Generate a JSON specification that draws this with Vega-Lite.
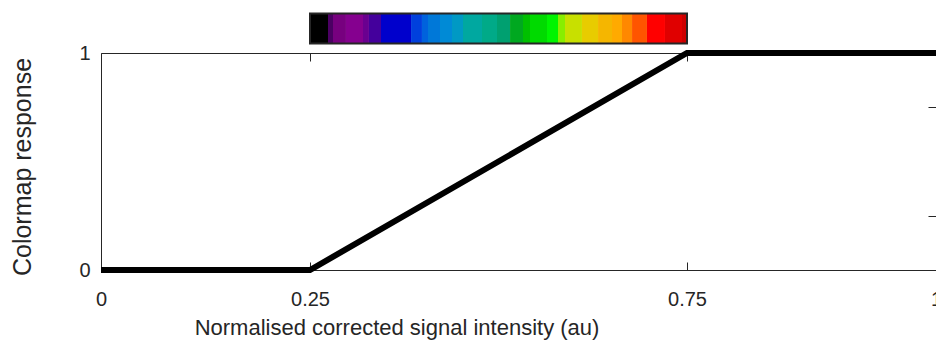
{
  "$schema": "https://vega.github.io/schema/vega-lite/v6.json",
  "width": 835,
  "height": 217,
  "autosize": {"type": "none"},
  "padding": {"left": 101, "top": 53, "right": 0, "bottom": 75},
  "background": "white",
  "config": {
    "view": {"stroke": null},
    "font": "Liberation Sans",
    "axis": {
      "domainColor": "#262626", "tickColor": "#262626", "labelColor": "#262626", "titleColor": "#262626",
      "labelFont": "Liberation Sans", "titleFont": "Liberation Sans",
      "labelFontSize": 20, "titleFontSize": 22, "titleFontWeight": "normal",
      "grid": false, "domainWidth": 1, "tickWidth": 1, "tickSize": -8
    }
  },
  "datasets": {
    "curve": [
      {"s": 0, "r": 0}, {"s": 0.25, "r": 0}, {"s": 0.75, "r": 1}, {"s": 1, "r": 1}
    ],
    "frame": [
      {"a": 0.25, "b": 0.75}
    ],
    "cmap": [
      {"x0": 0.25, "x1": 0.2739, "k": 1},
      {"x0": 0.2739, "x1": 0.2805, "k": 2},
      {"x0": 0.2805, "x1": 0.2977, "k": 3},
      {"x0": 0.2977, "x1": 0.3203, "k": 4},
      {"x0": 0.3203, "x1": 0.3282, "k": 5},
      {"x0": 0.3282, "x1": 0.3442, "k": 6},
      {"x0": 0.3442, "x1": 0.384, "k": 7},
      {"x0": 0.384, "x1": 0.3985, "k": 8},
      {"x0": 0.3985, "x1": 0.4065, "k": 9},
      {"x0": 0.4065, "x1": 0.4224, "k": 10},
      {"x0": 0.4224, "x1": 0.4383, "k": 11},
      {"x0": 0.4383, "x1": 0.4529, "k": 12},
      {"x0": 0.4529, "x1": 0.4781, "k": 13},
      {"x0": 0.4781, "x1": 0.498, "k": 14},
      {"x0": 0.498, "x1": 0.5153, "k": 15},
      {"x0": 0.5153, "x1": 0.5325, "k": 16},
      {"x0": 0.5325, "x1": 0.5418, "k": 17},
      {"x0": 0.5418, "x1": 0.5643, "k": 18},
      {"x0": 0.5643, "x1": 0.5789, "k": 19},
      {"x0": 0.5789, "x1": 0.5882, "k": 20},
      {"x0": 0.5882, "x1": 0.6107, "k": 21},
      {"x0": 0.6107, "x1": 0.632, "k": 22},
      {"x0": 0.632, "x1": 0.6505, "k": 23},
      {"x0": 0.6505, "x1": 0.6638, "k": 24},
      {"x0": 0.6638, "x1": 0.6771, "k": 25},
      {"x0": 0.6771, "x1": 0.6969, "k": 26},
      {"x0": 0.6969, "x1": 0.7208, "k": 27},
      {"x0": 0.7208, "x1": 0.7434, "k": 28},
      {"x0": 0.7434, "x1": 0.75, "k": 29}
    ]
  },
  "resolve": {"axis": {"x": "independent", "y": "independent"}},
  "layer": [
    {
      "data": {"name": "cmap"},
      "mark": {"type": "rect", "strokeWidth": 0},
      "encoding": {
        "x": {
          "field": "x0", "type": "quantitative",
          "scale": {"domain": [0, 0.25, 0.75, 1], "range": [0, 209, 586, 835]},
          "axis": {"orient": "top", "values": [0.25, 0.75], "labels": false, "title": null, "domain": true}
        },
        "x2": {"field": "x1"},
        "y": {
          "datum": 1.0438, "type": "quantitative",
          "scale": {"domain": [0, 1]},
          "axis": {"orient": "right", "values": [0.25, 0.75], "labels": false, "title": null, "domain": false}
        },
        "y2": {"datum": 1.182},
        "color": {
          "field": "k", "type": "ordinal", "legend": null,
          "scale": {"range": ["#000000", "#4b0063", "#77007f", "#85008f", "#6a0090", "#44009c", "#0000cc", "#0040dd", "#0062dd", "#0078d8", "#008ad6", "#0099c4", "#00a8a0", "#00aa88", "#00a070", "#00a820", "#00c000", "#00da00", "#00f400", "#88ee00", "#c8e000", "#e8cc00", "#f5b600", "#ffaa00", "#ff8800", "#ff5500", "#ff0000", "#e00000", "#cc0000"]}
        }
      }
    },
    {
      "data": {"name": "frame"},
      "mark": {"type": "rect", "fill": "transparent", "stroke": "#262626", "strokeWidth": 2},
      "encoding": {
        "x": {"field": "a", "type": "quantitative", "scale": {"domain": [0, 0.25, 0.75, 1], "range": [0, 209, 586, 835]}, "axis": null},
        "x2": {"field": "b"},
        "y": {"datum": 1.0438, "type": "quantitative", "scale": {"domain": [0, 1]}, "axis": null},
        "y2": {"datum": 1.182}
      }
    },
    {
      "data": {"name": "curve"},
      "mark": {"type": "line", "color": "#000000", "strokeWidth": 6},
      "encoding": {
        "x": {
          "field": "s", "type": "quantitative",
          "scale": {"domain": [0, 0.25, 0.75, 1], "range": [0, 209, 586, 835]},
          "axis": {
            "orient": "bottom", "values": [0, 0.25, 0.75, 1], "format": ".2~f",
            "labelFlush": false, "labelOverlap": false, "labelPadding": 27,
            "title": "Normalised corrected signal intensity (au)",
            "titleX": 295.5, "titleY": 57, "titleBaseline": "middle", "titleAlign": "center", "titleAnchor": null
          }
        },
        "y": {
          "field": "r", "type": "quantitative",
          "scale": {"domain": [0, 1]},
          "axis": {
            "orient": "left", "values": [0, 1], "format": ".2~f",
            "labelFlush": false, "labelOverlap": false, "labelPadding": 19,
            "title": "Colormap response", "titleFontSize": 25,
            "titleX": -79, "titleY": 113.5, "titleBaseline": "middle", "titleAlign": "center", "titleAnchor": null
          }
        }
      }
    }
  ]
}
